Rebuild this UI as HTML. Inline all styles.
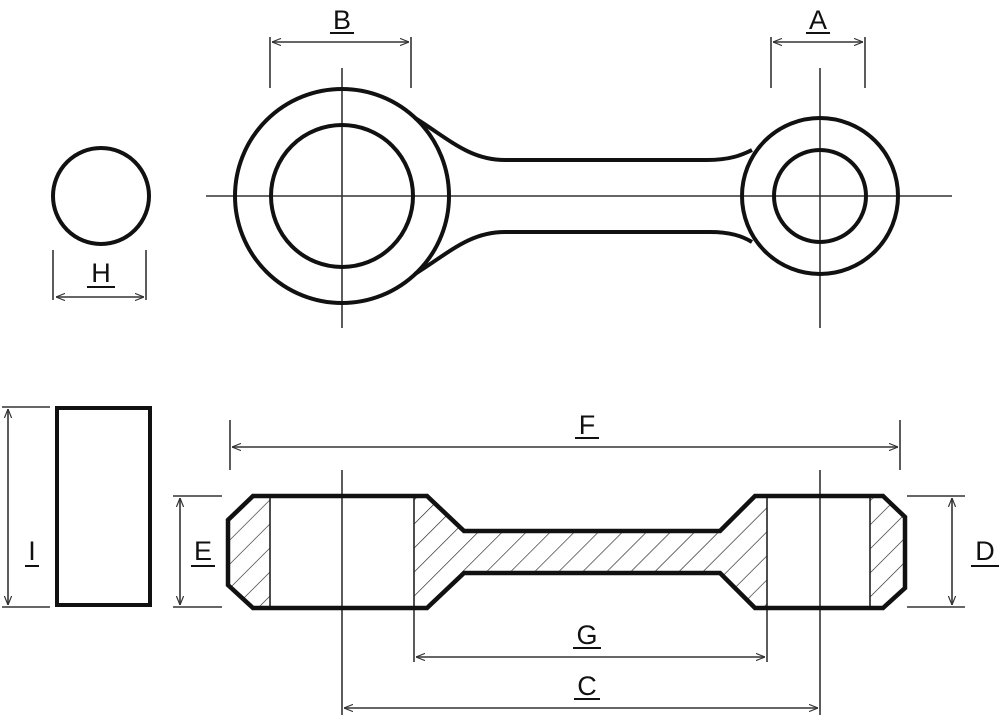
<!DOCTYPE html>
<html><head><style>
html,body{margin:0;padding:0;background:#fff;}
svg{display:block;}
text{font-family:"Liberation Sans",sans-serif;font-size:27px;fill:#111;text-anchor:middle;}
</style></head><body>
<svg width="1000" height="715" viewBox="0 0 1000 715" xmlns="http://www.w3.org/2000/svg">
<defs>
<marker id="ar" viewBox="0 0 10 10" refX="10" refY="5" markerWidth="9" markerHeight="9" orient="auto-start-reverse" markerUnits="userSpaceOnUse">
<path d="M0,1 L10,5 L0,9" fill="none" stroke="#333" stroke-width="1.3"/>
</marker>
<pattern id="hatch" patternUnits="userSpaceOnUse" width="17" height="17" patternTransform="rotate(45)">
<line x1="0" y1="0" x2="0" y2="17" stroke="#222" stroke-width="1.3"/>
</pattern>
</defs>
<g stroke="#333" stroke-width="1.6" fill="none">
<!-- center lines top -->
<line x1="206" y1="196" x2="952" y2="196"/>
<line x1="342" y1="68" x2="342" y2="328"/>
<line x1="820" y1="68" x2="820" y2="328"/>
<!-- B -->
<line x1="270" y1="37" x2="270" y2="88"/><line x1="411" y1="37" x2="411" y2="88"/>
<line x1="272" y1="42" x2="409" y2="42" marker-start="url(#ar)" marker-end="url(#ar)"/>
<!-- A -->
<line x1="771" y1="37" x2="771" y2="88"/><line x1="865" y1="37" x2="865" y2="88"/>
<line x1="773" y1="42" x2="863" y2="42" marker-start="url(#ar)" marker-end="url(#ar)"/>
<!-- H -->
<line x1="53" y1="250" x2="53" y2="300"/><line x1="146" y1="250" x2="146" y2="300"/>
<line x1="56" y1="297" x2="144" y2="297" marker-start="url(#ar)" marker-end="url(#ar)"/>
<!-- I -->
<line x1="2" y1="407" x2="50" y2="407"/><line x1="2" y1="607" x2="50" y2="607"/>
<line x1="8" y1="409" x2="8" y2="605" marker-start="url(#ar)" marker-end="url(#ar)"/>
<!-- E -->
<line x1="173" y1="496" x2="222" y2="496"/><line x1="173" y1="607" x2="222" y2="607"/>
<line x1="180" y1="498" x2="180" y2="605" marker-start="url(#ar)" marker-end="url(#ar)"/>
<!-- D -->
<line x1="907" y1="496" x2="965" y2="496"/><line x1="907" y1="607" x2="965" y2="607"/>
<line x1="952" y1="498" x2="952" y2="605" marker-start="url(#ar)" marker-end="url(#ar)"/>
<!-- F -->
<line x1="230" y1="420" x2="230" y2="470"/><line x1="900" y1="420" x2="900" y2="470"/>
<line x1="232" y1="447" x2="898" y2="447" marker-start="url(#ar)" marker-end="url(#ar)"/>
<!-- G -->
<line x1="414" y1="608" x2="414" y2="662"/><line x1="767" y1="608" x2="767" y2="662"/>
<line x1="416" y1="657" x2="765" y2="657" marker-start="url(#ar)" marker-end="url(#ar)"/>
<!-- C -->
<line x1="342" y1="470" x2="342" y2="715"/><line x1="820" y1="470" x2="820" y2="715"/>
<line x1="344" y1="708" x2="818" y2="708" marker-start="url(#ar)" marker-end="url(#ar)"/>
</g>
<!-- top view -->
<g stroke="#111" stroke-width="4" fill="none">
<circle cx="101" cy="196" r="48"/>
<circle cx="342" cy="196" r="107"/>
<circle cx="342" cy="196" r="71"/>
<circle cx="820" cy="196" r="78"/>
<circle cx="820" cy="196" r="46"/>
<path d="M415,118 C450,140 470,160 505,160 L707,160 C730,160 742,155 752,150"/>
<path d="M415,274 C450,252 470,232 505,232 L710,232 C730,232 742,236 752,242"/>
</g>
<!-- side view -->
<rect x="57" y="408" width="93" height="197" fill="none" stroke="#111" stroke-width="4"/>
<path d="M228,520 L253,496 L270,496 L270,608 L253,608 L228,585 Z" fill="url(#hatch)"/>
<path d="M414,496 L427,496 L464,531 L720,531 L755,496 L767,496 L767,608 L755,608 L720,573 L464,573 L427,608 L414,608 Z" fill="url(#hatch)"/>
<path d="M870,496 L883,496 L905,517 L905,588 L883,608 L870,608 Z" fill="url(#hatch)"/>
<g stroke="#222" stroke-width="1.6">
<line x1="270" y1="496" x2="270" y2="608"/><line x1="414" y1="496" x2="414" y2="608"/>
<line x1="767" y1="496" x2="767" y2="608"/><line x1="870" y1="496" x2="870" y2="608"/>
</g>
<path d="M253,496 L427,496 L464,531 L720,531 L755,496 L883,496 L905,517 L905,588 L883,608 L755,608 L720,573 L464,573 L427,608 L253,608 L228,585 L228,520 Z" fill="none" stroke="#111" stroke-width="4.5" stroke-linejoin="miter"/>
<!-- labels -->
<text x="342" y="29">B</text><line x1="330" y1="33" x2="354" y2="33" stroke="#111" stroke-width="2"/>
<text x="818" y="29">A</text><line x1="806" y1="33" x2="830" y2="33" stroke="#111" stroke-width="2"/>
<text x="101" y="282">H</text><line x1="87" y1="287" x2="115" y2="287" stroke="#111" stroke-width="2"/>
<text x="32" y="560">I</text><line x1="25" y1="566" x2="39" y2="566" stroke="#111" stroke-width="2"/>
<text x="203" y="560">E</text><line x1="191" y1="566" x2="215" y2="566" stroke="#111" stroke-width="2"/>
<text x="985" y="560">D</text><line x1="971" y1="566" x2="999" y2="566" stroke="#111" stroke-width="2"/>
<text x="587" y="434">F</text><line x1="575" y1="438" x2="599" y2="438" stroke="#111" stroke-width="2"/>
<text x="587" y="644">G</text><line x1="573" y1="648" x2="601" y2="648" stroke="#111" stroke-width="2"/>
<text x="587" y="695">C</text><line x1="574" y1="699" x2="600" y2="699" stroke="#111" stroke-width="2"/>
</svg>
</body></html>
